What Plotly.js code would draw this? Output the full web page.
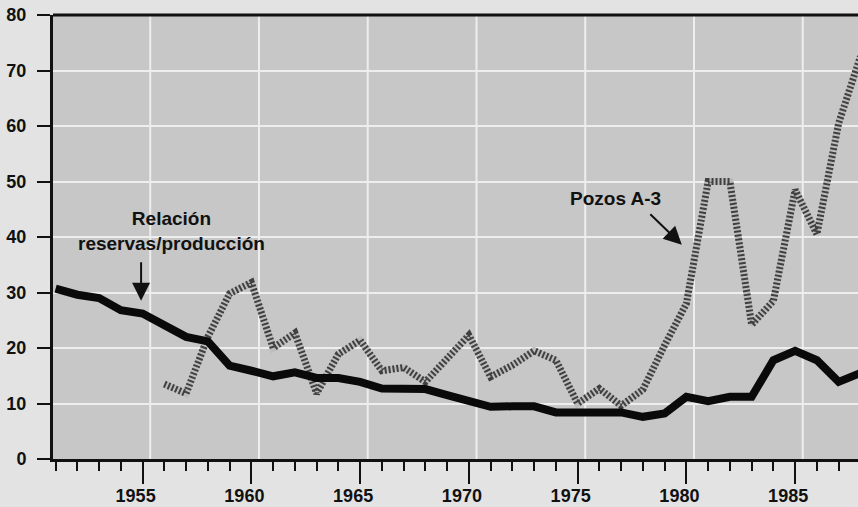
<!DOCTYPE html>
<html><head><meta charset="utf-8">
<script src="https://cdn.plot.ly/plotly-3.0.1.min.js"></script>
<style>html,body{margin:0;padding:0;background:#e3e3e3}#chart{width:858px;height:507px}</style>
</head><body><div id="chart"></div>
<script>
// ---- data ----
const relacionYears = [1951,1952,1953,1954,1955,1956,1957,1958,1959,1960,1961,1962,1963,1964,1965,1966,1967,1968,1969,1970,1971,1972,1973,1974,1975,1976,1977,1978,1979,1980,1981,1982,1983,1984,1985,1986,1987,1988];
const relacion = [30.7,29.6,29.0,26.8,26.2,24.0,22.0,21.2,16.8,15.9,14.9,15.6,14.6,14.6,13.9,12.7,12.6,12.6,11.5,10.3,9.4,9.5,9.5,8.4,8.4,8.4,8.4,7.6,8.2,11.2,10.4,11.2,11.2,17.8,19.5,17.8,13.9,15.5];
const pozosYears = [1956,1957,1958,1959,1960,1961,1962,1963,1964,1965,1966,1967,1968,1969,1970,1971,1972,1973,1974,1975,1976,1977,1978,1979,1980,1981,1982,1983,1984,1985,1986,1987,1988];
const pozos = [13.5,11.8,22.0,29.8,31.8,20.0,22.7,11.8,18.9,21.4,15.9,16.5,13.9,18.3,22.3,14.8,16.9,19.5,17.8,10.0,12.7,9.6,12.5,20.5,28.0,50.0,50.0,24.2,28.5,48.5,40.5,60.5,72.5];
const majorYears = [1955,1960,1965,1970,1975,1980,1985];
const yTickVals = [0,10,20,30,40,50,60,70,80];
const labelRelacion = 'Relación<br>reservas/producción';
const labelPozos = 'Pozos A-3';

const FONT = '"Liberation Sans", Arial, Helvetica, sans-serif';
const INK = '#111111';
const xRange = [1950.88, 1987.89];
const gridShift = 0.35;   // vertical grid printed slightly right of the ticks

const traces = [
  {x: pozosYears, y: pozos, type:'scatter', mode:'lines', line:{color:'#bcbcbc', width:7}, hoverinfo:'skip', showlegend:false},
  {x: pozosYears, y: pozos, type:'scatter', mode:'lines', line:{color:'#404040', width:7, dash:'2px,2px'}, hoverinfo:'skip', showlegend:false},
  {x: relacionYears, y: relacion, type:'scatter', mode:'lines', line:{color:'#0a0a0a', width:8}, hoverinfo:'skip', showlegend:false}
];

const shapes = majorYears.map(yr => ({
  type:'line', layer:'below', xref:'x', yref:'paper',
  x0: yr + gridShift, x1: yr + gridShift, y0: 0, y1: 1,
  line:{color:'#eeeeee', width:2}
}));
shapes.push({type:'line', layer:'above', xref:'paper', yref:'paper', x0:0, x1:1, y0:1, y1:1, line:{color:INK, width:3}});

const layout = {
  width:858, height:507,
  margin:{l:53, r:0, t:15, b:48, pad:0},
  paper_bgcolor:'#e3e3e3', plot_bgcolor:'#c7c7c7',
  font:{family:FONT, color:INK, size:18, weight:'bold'},
  showlegend:false,
  xaxis:{
    range:xRange, tickmode:'array', tickvals:majorYears, ticktext:majorYears.map(String),
    ticks:'outside', ticklen:22, tickwidth:2, tickcolor:INK,
    ticklabelshift:-7, ticklabelstandoff:-4,
    tickfont:{family:FONT, size:18, color:INK, weight:'bold'},
    showgrid:false, zeroline:false, showline:true, linewidth:3, linecolor:INK,
    minor:{tickmode:'linear', tick0:1950, dtick:1, ticks:'outside', ticklen:9, tickwidth:2, tickcolor:INK, showgrid:false},
    fixedrange:true
  },
  yaxis:{
    range:[0,80], tickmode:'array', tickvals:yTickVals,
    ticks:'outside', ticklen:13, tickwidth:2, tickcolor:INK,
    showline:true, linewidth:3, linecolor:INK,
    showgrid:true, gridcolor:'#eeeeee', gridwidth:2, zeroline:false,
    ticklabelstandoff:7,
    tickfont:{family:FONT, size:18, color:INK, weight:'bold'},
    fixedrange:true
  },
  shapes: shapes,
  annotations:[
    {xref:'x', yref:'y', x:1956.35, y:41, text:labelRelacion, showarrow:false,
     font:{family:FONT, size:19, color:INK, weight:'bold'}, align:'center'},
    {xref:'x', yref:'y', x:1954.93, y:28.5, text:'', showarrow:true, ax:0, ay:-40,
     arrowhead:2, arrowsize:1.8, arrowwidth:2, arrowcolor:INK},
    {xref:'x', yref:'y', x:1976.72, y:46.9, text:labelPozos, showarrow:false,
     font:{family:FONT, size:19, color:INK, weight:'bold'}},
    {xref:'x', yref:'y', x:1979.79, y:38.6, text:'', showarrow:true, ax:-33, ay:-32,
     arrowhead:2, arrowsize:1.8, arrowwidth:2, arrowcolor:INK}
  ]
};

Plotly.newPlot('chart', traces, layout, {displayModeBar:false, staticPlot:true});
</script>
</body></html>
